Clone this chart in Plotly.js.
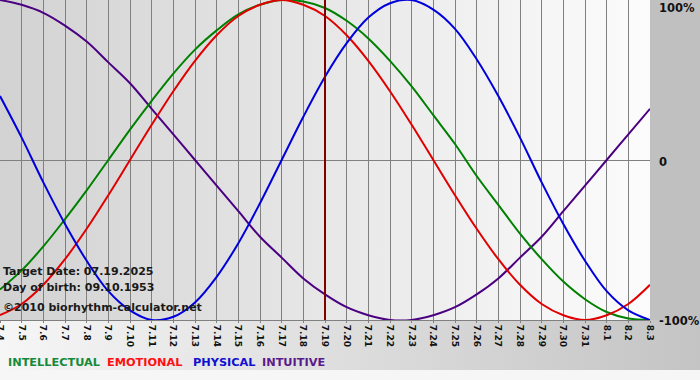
<!DOCTYPE html>
<html>
<head>
<meta charset="utf-8">
<script src="https://cdn.plot.ly/plotly-3.0.1.min.js"></script>
<style>
html,body{margin:0;padding:0;}
#chart{width:700px;height:380px;position:relative;
background:
 linear-gradient(to right,#d2d2d2,#fcfcfc) 0 0/650px 320px no-repeat,
 linear-gradient(#c0c0c0,#c0c0c0) 650px 0/50px 320px no-repeat,
 linear-gradient(to right,#f6f6f6,#c4c4c4) 0 320px/700px 50px no-repeat,
 #f6f6f6;}
</style>
</head>
<body>
<div id="chart"></div>
<script>
// Dates shown on the x axis (month.day)
var dates = ['7.4','7.5','7.6','7.7','7.8','7.9','7.10','7.11','7.12','7.13','7.14','7.15','7.16','7.17','7.18','7.19','7.20','7.21','7.22','7.23','7.24','7.25','7.26','7.27','7.28','7.29','7.30','7.31','8.1','8.2','8.3'];
var targetDate = '7.19';

// Cycle values in percent
var physical     = [40, 14, -14, -40, -63, -82, -94, -100, -98, -89, -73, -52, -27, 0, 27, 52, 73, 89, 98, 100, 94, 82, 63, 40, 14, -14, -40, -63, -82, -94, -100];
var emotional    = [-97, -90, -78, -62, -43, -22, 0, 22, 43, 62, 78, 90, 97, 100, 97, 90, 78, 62, 43, 22, 0, -22, -43, -62, -78, -90, -97, -100, -97, -90, -78];
var intellectual = [-81, -69, -54, -37, -19, 0, 19, 37, 54, 69, 81, 91, 97, 100, 99, 95, 87, 76, 62, 46, 28, 10, -10, -28, -46, -62, -76, -87, -95, -99, -100];
var intuitive    = [100, 97, 92, 84, 74, 61, 48, 32, 16, 0, -16, -32, -48, -61, -74, -84, -92, -97, -100, -100, -97, -92, -84, -74, -61, -48, -32, -16, 0, 16, 32];

var seriesNames = ['INTELLECTUAL','EMOTIONAL','PHYSICAL','INTUITIVE'];
var lineColors  = ['#008000','#e00000','#0000dd','#4b0082'];
var textColors  = ['#168a3a','#ff1010','#1010d0','#5a1a8c'];

function curve(y, color){
  return {x: dates, y: y, type:'scatter', mode:'lines',
    line:{color:color, width:2, shape:'spline', smoothing:1}, hoverinfo:'skip', showlegend:false};
}

var traces = [
  curve(intuitive, lineColors[3]),
  curve(intellectual, lineColors[0]),
  curve(emotional, lineColors[1]),
  curve(physical, lineColors[2]),
  {x:[targetDate,targetDate], y:[-100,100], type:'scatter', mode:'lines',
   line:{color:'#800000', width:2}, hoverinfo:'skip', showlegend:false}
];

var txtFont = {family:'DejaVu Sans', size:11, color:'#1a1a1a', weight:'bold'};
var annotations = [
  {text:'Target Date: 07.19.2025', xref:'paper', yref:'paper', x:0, y:1-271/320, xanchor:'left', yanchor:'middle', xshift:1, showarrow:false, font:txtFont},
  {text:'Day of birth: 09.10.1953', xref:'paper', yref:'paper', x:0, y:1-287/320, xanchor:'left', yanchor:'middle', xshift:1, showarrow:false, font:txtFont},
  {text:'©2010 biorhythm-calculator.net', xref:'paper', yref:'paper', x:0, y:1-307/320, xanchor:'left', yanchor:'middle', xshift:1, showarrow:false, font:txtFont},
  {text:'100%', xref:'paper', yref:'y', x:1, y:100, xanchor:'left', yanchor:'top', xshift:7, yshift:1, showarrow:false, font:{family:'DejaVu Sans', size:11.5, color:'#111', weight:'bold'}},
  {text:'0', xref:'paper', yref:'y', x:1, y:0, xanchor:'left', yanchor:'middle', xshift:7, yshift:-2, showarrow:false, font:{family:'DejaVu Sans', size:11.5, color:'#111', weight:'bold'}},
  {text:'-100%', xref:'paper', yref:'y', x:1, y:-100, xanchor:'left', yanchor:'middle', xshift:7, yshift:-1, showarrow:false, font:{family:'DejaVu Sans', size:11.5, color:'#111', weight:'bold'}}
];
var legendX = [8, 107, 193, 262];
for (var i=0;i<seriesNames.length;i++){
  annotations.push({text:seriesNames[i], xref:'paper', yref:'paper', x:legendX[i]/650, y:1-362/320,
    xanchor:'left', yanchor:'middle', xshift:-2, showarrow:false,
    font:{family:'DejaVu Sans', size:11.3, color:textColors[i], weight:'bold'}});
}

var layout = {
  width:700, height:380,
  margin:{l:0, r:50, t:0, b:60, pad:0},
  paper_bgcolor:'rgba(0,0,0,0)', plot_bgcolor:'rgba(0,0,0,0)',
  showlegend:false,
  xaxis:{type:'category', range:[0,30], tickangle:90, showgrid:true, gridcolor:'#808080', gridwidth:1,
    ticks:'outside', ticklen:2, tickcolor:'#808080', showline:true, linecolor:'#808080',
    tickfont:{family:'DejaVu Sans', size:9, color:'#111', weight:'bold'}, fixedrange:true, automargin:false},
  yaxis:{range:[-100,100], tickvals:[-100,0,100], showticklabels:false, showgrid:true, gridcolor:'#808080',
    zeroline:true, zerolinecolor:'#808080', zerolinewidth:1, fixedrange:true, automargin:false},
  annotations: annotations
};

Plotly.newPlot('chart', traces, layout, {displayModeBar:false, staticPlot:true});
</script>
</body>
</html>
